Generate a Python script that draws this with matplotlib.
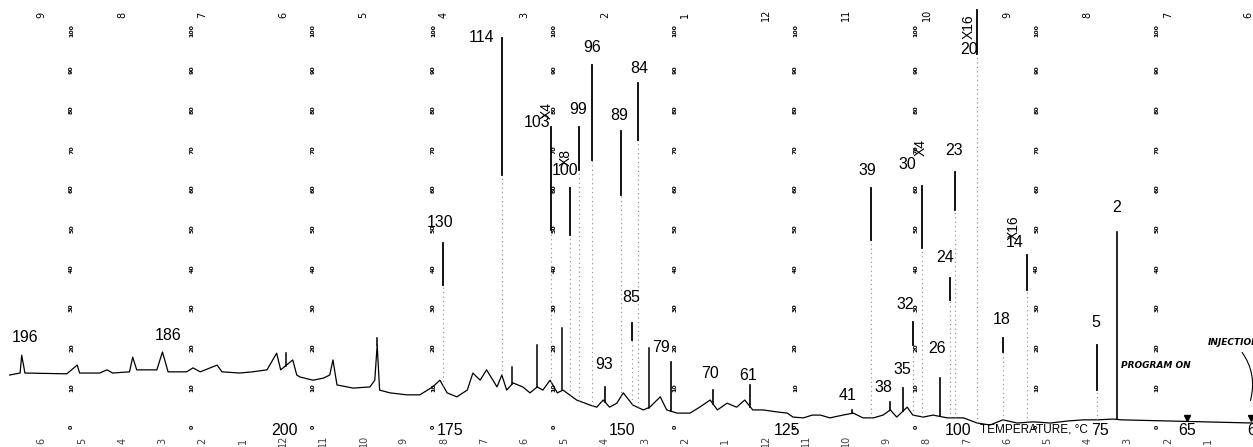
"""
Programmed-temperature gas chromatogram, redrawn from a scanned chart.
Retention time runs right to left, injection at the right edge.
"""

import numpy as np
import matplotlib
matplotlib.use("Agg")
import matplotlib.pyplot as plt

# baseline trace: retention time (chart minutes) and response (% of chart)
trace_t = [15.40, 15.27, 15.25, 15.21, 14.69, 14.56, 14.53, 14.28, 14.19, 14.12,
           13.91, 13.87, 13.82, 13.57, 13.50, 13.43, 13.20, 13.12, 13.03, 12.82,
           12.76, 12.54, 12.38, 12.20, 12.08, 12.03, 11.88, 11.83, 11.79, 11.63,
           11.50, 11.42, 11.38, 11.33, 11.13, 10.92, 10.86, 10.83, 10.80, 10.67,
           10.46, 10.30, 10.14, 10.05, 9.96, 9.84, 9.71, 9.64, 9.55, 9.47,
           9.34, 9.28, 9.22, 9.14, 9.02, 8.93, 8.84, 8.77, 8.68, 8.59,
           8.52, 8.35, 8.18, 8.10, 8.02, 7.94, 7.85, 7.77, 7.65, 7.52,
           7.44, 7.31, 7.23, 7.10, 6.94, 6.82, 6.69, 6.60, 6.48, 6.36,
           6.26, 6.16, 6.03, 5.86, 5.73, 5.66, 5.53, 5.42, 5.32, 5.20,
           5.04, 4.91, 4.79, 4.66, 4.54, 4.45, 4.37, 4.24, 4.17, 4.04,
           3.92, 3.74, 3.54, 3.37, 3.21, 3.05, 2.87, 2.67, 2.46, 2.25,
           2.05, 1.88, 1.68, 1.57, -0.06]
trace_v = [13.1, 13.6, 18.1, 13.6, 13.4, 15.6, 13.6, 13.6, 14.4, 13.6,
           13.9, 17.6, 14.4, 14.4, 18.9, 13.9, 13.9, 14.9, 13.9, 15.6,
           13.9, 13.6, 13.9, 14.4, 18.6, 14.4, 16.9, 13.1, 12.6, 11.8,
           12.3, 13.1, 16.9, 10.6, 9.8, 10.1, 11.8, 20.7, 9.3, 8.6,
           8.1, 8.1, 10.1, 11.8, 8.6, 7.6, 9.3, 13.6, 11.8, 14.4,
           10.1, 13.1, 9.3, 11.1, 10.1, 8.6, 10.1, 9.3, 11.8, 8.6,
           9.3, 6.8, 5.5, 5.0, 6.8, 5.0, 6.0, 8.6, 5.5, 4.3,
           5.0, 7.6, 4.3, 3.5, 3.5, 5.0, 6.8, 4.3, 6.0, 5.0,
           6.8, 4.3, 4.3, 3.8, 3.5, 2.5, 2.3, 3.0, 3.0, 2.3,
           3.0, 3.5, 2.3, 2.3, 3.0, 4.3, 2.5, 5.0, 3.0, 2.5,
           3.0, 2.3, 2.3, 1.0, 0.5, 1.8, 1.0, 1.3, 1.0, 1.5,
           1.8, 1.8, 2.0, 1.8, 1.0]

# numbered peaks: retention time, apex response, end of the inked part, label
peak_names = ["2", "5", "14", "18", "20", "23", "24", "26", "30", "32", "35",
              "38", "39", "41", "61", "70", "79", "84", "85", "89", "93", "96",
              "99", "100", "103", "114", "130", "186", "196"]
peak_t = [1.63, 1.88, 2.75, 3.05, 3.37, 3.64, 3.71, 3.83, 4.05, 4.17, 4.29,
          4.45, 4.69, 4.93, 6.19, 6.65, 7.18, 7.59, 7.66, 7.80, 8.00, 8.16,
          8.32, 8.43, 8.67, 9.28, 10.01, 13.50, 15.25]
peak_top = [49.1, 20.7, 43.3, 22.4, 105.0, 64.2, 37.5, 12.3, 60.7, 26.4, 9.8,
            6.3, 60.2, 4.3, 10.6, 9.3, 16.4, 86.6, 26.2, 74.6, 10.1, 91.2,
            75.6, 60.2, 75.6, 98.0, 46.3, 18.9, 18.1]
peak_ink = [None, 9.3, 34.5, 18.9, 94.0, 54.7, 32.0, None, 45.0, 20.7, None,
            None, 47.0, None, None, None, None, 72.3, 22.0, 58.4, None, 67.3,
            64.7, 48.4, 49.6, 63.5, 35.8, None, None]
label_t = [1.63, 1.89, 2.90, 3.07, 3.47, 3.66, 3.77, 3.87, 4.24, 4.27, 4.30,
           4.54, 4.74, 4.98, 6.22, 6.69, 7.30, 7.57, 7.67, 7.82, 8.01, 8.16,
           8.33, 8.49, 8.84, 9.53, 10.05, 13.43, 15.21]
label_v = [53.4, 24.4, 44.6, 25.2, 93.2, 67.8, 40.8, 17.9, 64.2, 29.0, 12.6,
           8.1, 62.7, 6.0, 11.1, 11.6, 18.1, 88.4, 30.7, 76.6, 13.9, 93.7,
           78.1, 62.7, 74.8, 96.2, 49.6, 21.2, 20.7]

# unnumbered spikes
spike_t = [10.83, 11.97, 8.53, 8.84, 9.15, 7.45]
spike_top = [22.4, 18.6, 24.9, 20.7, 15.0, 20.0]

# attenuation marks
atten_text = ["X4", "X8", "X16", "X4", "X16"]
atten_t = [8.72, 8.48, 2.92, 4.07, 3.48]
atten_v = [79.8, 67.8, 50.1, 70.5, 101.0]

# chart paper columns of % labels
grid_t = [1.13 + 1.5 * k for k in range(10)]
grid_vals = list(range(0, 101, 10))

# chart-drive minute marks
top_minutes = ["6", "7", "8", "9", "10", "11", "12", "1", "2", "3", "4", "5",
               "6", "7", "8", "9"]
bottom_minutes = ["1", "2", "3", "4", "5", "6", "7", "8", "9", "10", "11", "12",
                  "1", "2", "3", "4", "5", "6", "7", "8", "9", "10", "11", "12",
                  "1", "2", "3", "4", "5", "6"]

# column temperature scale
temp_labels = ["200", "175", "150", "125", "100", "75", "65", "60"]
temp_t = [11.98, 9.93, 7.79, 5.73, 3.61, 1.84, 0.76, -0.10]

lettering = "Liberation Sans"

fig = plt.figure(figsize=(12.53, 4.47), dpi=100)
ax = fig.add_axes([0, 0, 1, 1])
ax.set_xlim(15.52, -0.06)
ax.set_ylim(-5.04, 107.6)
ax.axis("off")

ax.plot(trace_t, trace_v, color="black", lw=0.9)

order = np.argsort(trace_t)
base_t = np.array(trace_t)[order]
base_v = np.array(trace_v)[order]

for name, t, top, ink, lt, lv in zip(peak_names, peak_t, peak_top, peak_ink,
                                     label_t, label_v):
    base = np.interp(t, base_t, base_v)
    if ink is None:
        ax.plot([t, t], [base, top], color="black", lw=1.2)
    else:
        ax.plot([t, t], [base, ink], color="0.55", lw=0.8, ls=(0, (1, 3)))
        ax.plot([t, t], [ink, top], color="black", lw=1.3)
    ax.text(lt, lv, name, fontsize=11.5, ha="center", va="bottom",
            color="black", family=lettering)

for t, top in zip(spike_t, spike_top):
    base = np.interp(t, base_t, base_v)
    ax.plot([t, t], [base, top], color="black", lw=1.1)

for txt, t, v in zip(atten_text, atten_t, atten_v):
    ax.text(t, v, txt, fontsize=10, rotation=90, ha="center", va="center",
            family=lettering)

for t in grid_t:
    for val in grid_vals:
        ax.text(t, val, str(val), fontsize=4.5, rotation=90, ha="center",
                va="center", fontweight="bold")

for k, lab in enumerate(top_minutes):
    ax.text(k, 103.8, lab, fontsize=7, rotation=90, ha="center", va="center",
            clip_on=True)
for k, lab in enumerate(bottom_minutes):
    ax.text(0.5 + 0.5 * k, -3.6, lab, fontsize=7, rotation=90, ha="center",
            va="center", color="0.25", clip_on=True)

for lab, t in zip(temp_labels, temp_t):
    ax.text(t, -1.0, lab, fontsize=11.5, ha="center", va="center",
            clip_on=True, family=lettering)
ax.text(3.33, -0.6, "TEMPERATURE, °C", fontsize=8.5, ha="left", va="center",
        family=lettering)

ax.plot([0.76, -0.04], [2.3, 2.3], ls="none", marker="v", color="black",
        markersize=5)
ax.text(1.15, 15.4, "PROGRAM ON", fontsize=6.5, style="italic",
        fontweight="bold", ha="center", va="center")
ax.annotate("INJECTION", xy=(-0.02, 6.0), xytext=(0.50, 21.2), fontsize=6.5,
            style="italic", fontweight="bold", ha="left", va="center",
            arrowprops=dict(arrowstyle="-", color="black", lw=0.8,
                            connectionstyle="arc3,rad=-0.3"))

fig.savefig("out.png", dpi=100)
